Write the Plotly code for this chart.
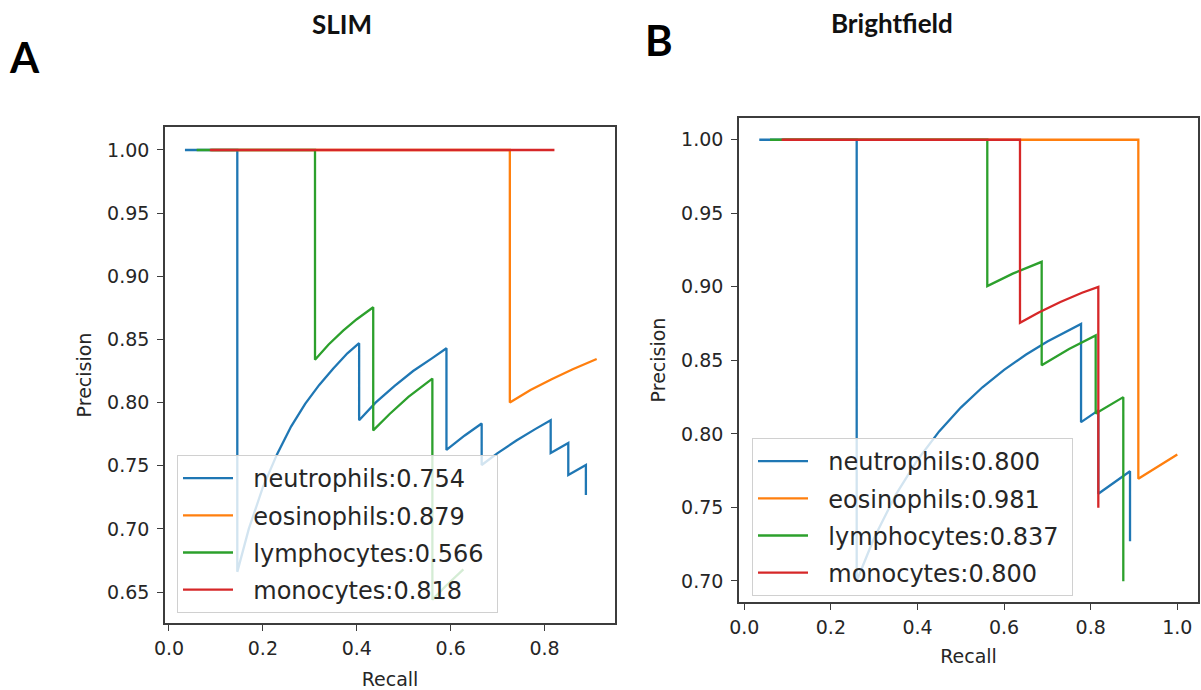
import plotly.graph_objects as go

# Precision-recall curves, SLIM panel (A)
slim_neut_r = [0.034, 0.1455, 0.1455, 0.17, 0.20, 0.23, 0.26, 0.29, 0.32, 0.35, 0.38, 0.405,
               0.405, 0.44, 0.48, 0.52, 0.56, 0.591, 0.591, 0.63, 0.666, 0.666, 0.70, 0.74,
               0.78, 0.813, 0.813, 0.8505, 0.8505, 0.888, 0.888]
slim_neut_p = [1.0, 1.0, 0.666, 0.700, 0.733, 0.759, 0.781, 0.799, 0.814, 0.827, 0.839, 0.847,
               0.786, 0.800, 0.813, 0.825, 0.835, 0.843, 0.7625, 0.774, 0.7835, 0.7506, 0.760, 0.770,
               0.779, 0.786, 0.760, 0.768, 0.7427, 0.7506, 0.7268]
slim_eos_r = [0.09, 0.726, 0.726, 0.77, 0.815, 0.86, 0.911]
slim_eos_p = [1.0, 1.0, 0.800, 0.810, 0.8185, 0.8264, 0.8345]
slim_lym_r = [0.059, 0.311, 0.311, 0.34, 0.371, 0.40, 0.435, 0.435, 0.47, 0.51, 0.561, 0.561, 0.59, 0.627]
slim_lym_p = [1.0, 1.0, 0.834, 0.846, 0.857, 0.866, 0.8755, 0.778, 0.791, 0.8045, 0.819, 0.644, 0.655, 0.668]
slim_mono_r = [0.087, 0.821]
slim_mono_p = [1.0, 1.0]

# Precision-recall curves, Brightfield panel (B)
bf_neut_r = [0.0346, 0.2596, 0.2596, 0.30, 0.35, 0.40, 0.45, 0.50, 0.55, 0.60, 0.65, 0.70, 0.7777,
             0.7777, 0.8176, 0.8176, 0.8908, 0.8908]
bf_neut_p = [1.0, 1.0, 0.700, 0.7294, 0.7587, 0.7823, 0.8017, 0.8179, 0.8317, 0.8435, 0.8538, 0.8628, 0.8748,
             0.808, 0.816, 0.7593, 0.7746, 0.727]
bf_eos_r = [0.09, 0.91, 0.91, 0.955, 1.0]
bf_eos_p = [1.0, 1.0, 0.7695, 0.778, 0.786]
bf_lym_r = [0.0594, 0.5612, 0.5612, 0.62, 0.6868, 0.6868, 0.75, 0.8115, 0.8115, 0.8753, 0.8753]
bf_lym_p = [1.0, 1.0, 0.9005, 0.909, 0.917, 0.8467, 0.8578, 0.867, 0.8138, 0.825, 0.6998]
bf_mono_r = [0.0863, 0.6367, 0.6367, 0.68, 0.73, 0.78, 0.8176, 0.8176]
bf_mono_p = [1.0, 1.0, 0.8756, 0.8825, 0.8897, 0.896, 0.900, 0.7498]

classes = ["neutrophils", "eosinophils", "lymphocytes", "monocytes"]
slim_ap = ["0.754", "0.879", "0.566", "0.818"]
bf_ap = ["0.800", "0.981", "0.837", "0.800"]
colors = ["#1f77b4", "#ff7f0e", "#2ca02c", "#d62728"]

W, H = 1201, 690
FONT = "DejaVu Sans"
TXT = "#262626"
FRAME = "#3c3c3c"
PAD = "\u00a0"

fig = go.Figure()

slim_curves = [(slim_neut_r, slim_neut_p), (slim_eos_r, slim_eos_p),
               (slim_lym_r, slim_lym_p), (slim_mono_r, slim_mono_p)]
bf_curves = [(bf_neut_r, bf_neut_p), (bf_eos_r, bf_eos_p),
             (bf_lym_r, bf_lym_p), (bf_mono_r, bf_mono_p)]

def label(name, ap):
    # a little breathing room around each legend entry
    return f"{PAD * 2}{name}:{ap}{PAD}"

for (r, p), name, ap, c in zip(slim_curves, classes, slim_ap, colors):
    fig.add_trace(go.Scatter(x=r, y=p, mode="lines", name=label(name, ap),
                             line=dict(color=c, width=2.3), xaxis="x", yaxis="y",
                             legend="legend", legendgroup="a_" + name))
for (r, p), name, ap, c in zip(bf_curves, classes, bf_ap, colors):
    fig.add_trace(go.Scatter(x=r, y=p, mode="lines", name=label(name, ap),
                             line=dict(color=c, width=2.3), xaxis="x2", yaxis="y2",
                             legend="legend2", legendgroup="b_" + name))

def px_x(v):
    return v / W

def px_y(v):
    return 1 - v / H

axis_common = dict(showline=True, mirror=True, linecolor=FRAME, linewidth=1.6,
                   ticks="outside", ticklen=6, tickwidth=1.3, tickcolor=FRAME,
                   showgrid=False, zeroline=False, automargin=False,
                   tickfont=dict(family=FONT, size=19, color=TXT))
title_f = dict(family=FONT, size=19, color=TXT)

legend_common = dict(bgcolor="rgba(255,255,255,0.8)", bordercolor="#d0d0d0", borderwidth=1,
                     font=dict(family=FONT, size=24, color=TXT),
                     xanchor="left", yanchor="top", itemwidth=50, tracegroupgap=3)

fig.update_layout(
    width=W, height=H,
    margin=dict(l=0, r=0, t=0, b=0, autoexpand=False),
    paper_bgcolor="white", plot_bgcolor="white",
    showlegend=True,
    xaxis=dict(domain=[px_x(165), px_x(615)], range=[-0.0085, 0.950], dtick=0.2, tickformat=".1f",
               anchor="y", ticklabelstandoff=1,
               title=dict(text="Recall", font=title_f, standoff=15),
               **axis_common),
    yaxis=dict(domain=[px_y(623), px_y(127)], range=[0.6255, 1.0182], dtick=0.05, tickformat=".2f",
               anchor="x", ticklabelstandoff=4,
               title=dict(text="Precision", font=title_f, standoff=10),
               **axis_common),
    xaxis2=dict(domain=[px_x(739), px_x(1198)], range=[-0.0122, 1.0478], dtick=0.2, tickformat=".1f",
                anchor="y2", ticklabelstandoff=1,
                title=dict(text="Recall", font=title_f, standoff=13),
                **axis_common),
    yaxis2=dict(domain=[px_y(602), px_y(118)], range=[0.6857, 1.0148], dtick=0.05, tickformat=".2f",
                anchor="x2", ticklabelstandoff=4,
                title=dict(text="Precision", font=title_f, standoff=10),
                **axis_common),
    legend=dict(x=px_x(177), y=px_y(455), **legend_common),
    legend2=dict(x=px_x(752), y=px_y(438), **legend_common),
)

title_font = dict(family="Lato", size=26, color="#111111", weight="bold")
panel_font = dict(family="Lato", size=42, color="#000000", weight="bold")
fig.add_annotation(text="SLIM", x=px_x(342), y=px_y(24), xref="paper", yref="paper",
                   showarrow=False, font=title_font, xanchor="center", yanchor="middle")
fig.add_annotation(text="Brightfield", x=px_x(892), y=px_y(23), xref="paper", yref="paper",
                   showarrow=False, font=title_font, xanchor="center", yanchor="middle")
fig.add_annotation(text="A", x=px_x(24), y=px_y(57), xref="paper", yref="paper",
                   showarrow=False, font=panel_font, xanchor="center", yanchor="middle")
fig.add_annotation(text="B", x=px_x(659), y=px_y(40), xref="paper", yref="paper",
                   showarrow=False, font=panel_font, xanchor="center", yanchor="middle")

fig.write_html("out.html")
